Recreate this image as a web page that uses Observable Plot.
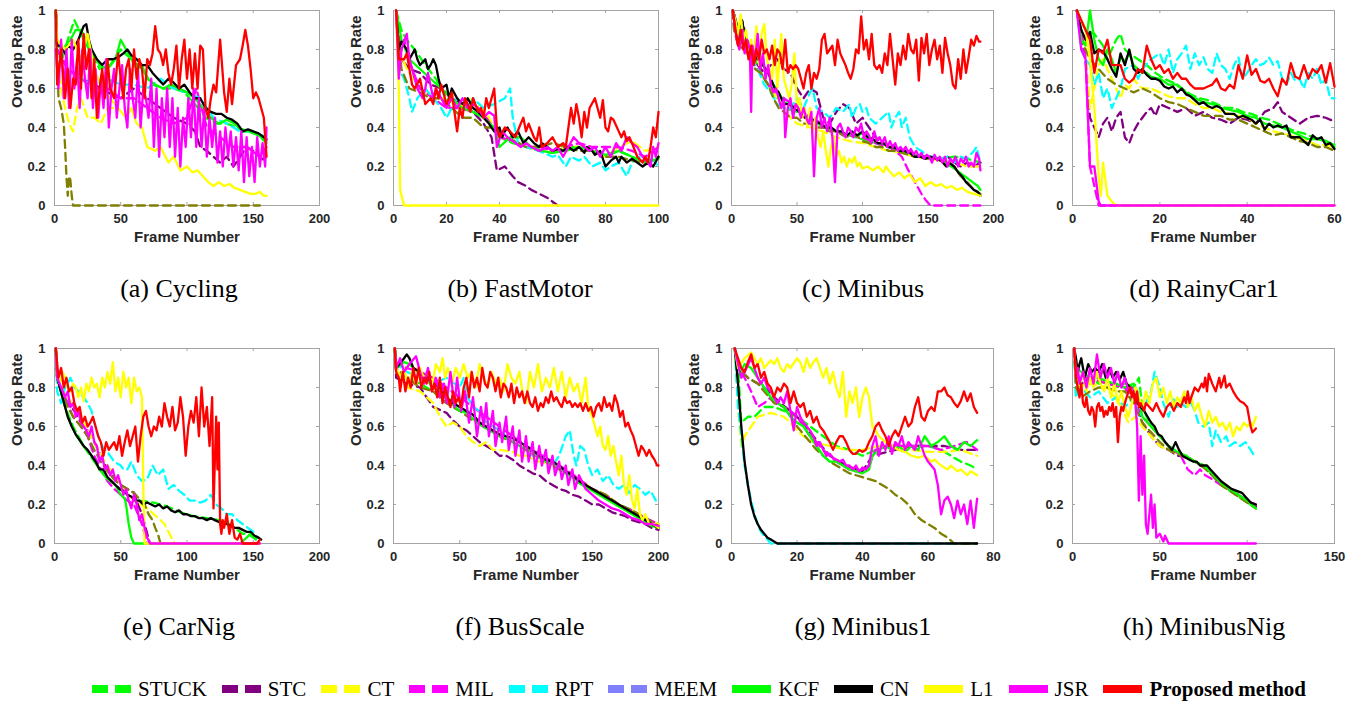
<!DOCTYPE html>
<html><head><meta charset="utf-8">
<script src="https://cdn.jsdelivr.net/npm/d3@7"></script>
<script src="https://cdn.jsdelivr.net/npm/@observablehq/plot@0.6"></script>
<style>
body{margin:0;background:#fff;}
#root{position:relative;width:1362px;height:702px;overflow:hidden;background:#fff;}
.panel{position:absolute;}
.caption{position:absolute;font-family:"Liberation Serif","Times New Roman",serif;font-size:26px;line-height:1;color:#000;transform:translate(-50%,-50%);white-space:nowrap;}
#legend{position:absolute;left:92px;top:674px;height:30px;display:flex;align-items:center;gap:15px;font-family:"Liberation Serif","Times New Roman",serif;font-size:21px;color:#000;white-space:nowrap;}
#legend .item{display:flex;align-items:center;gap:7px;}
#legend svg{display:block;}
</style></head><body><div id="root"></div>
<script>
// ---------------- names, colours ----------------
const trackers = ["STUCK","STC","CT","MIL","RPT","MEEM","KCF","CN","L1","JSR","Proposed method"];
const lineColors = ["#00ff00","#800080","#ffff00","#ff00ff","#00ffff","#808000","#00ff00","#000000","#ffff00","#ff00ff","#ff0000"];
const legendColors = ["#00ff00","#800080","#ffff00","#ff00ff","#00ffff","#8080ff","#00ff00","#000000","#ffff00","#ff00ff","#ff0000"];
const dashed = [true,true,true,true,true,true,false,false,false,false,false];

const panelCaptions = ["(a) Cycling","(b) FastMotor","(c) Minibus","(d) RainyCar1","(e) CarNig","(f) BusScale","(g) Minibus1","(h) MinibusNig"];
const panelXMax = [200,100,200,60,200,200,80,150];
const panelXTicks = [[0,50,100,150,200],[0,20,40,60,80,100],[0,50,100,150,200],[0,20,40,60],[0,50,100,150,200],[0,50,100,150,200],[0,20,40,60,80],[0,50,100,150]];
const yTicks = [0,0.2,0.4,0.6,0.8,1];
const xLabel = "Frame Number";
const yLabel = "Overlap Rate";

// ---------------- data: flat lists of frame, overlap pairs ----------------
const cycling = {
 "STUCK":[1,1,2,.8,6,.75,10,.85,15,.95,20,.88,26,.8,34,.7,42,.72,50,.8,58,.75,66,.7,74,.62,82,.6,90,.6,98,.58,106,.52,114,.45,122,.42,130,.42,138,.4,146,.38,154,.36,160,.32],
 "STC":[1,1,2,.8,10,.7,20,.65,30,.62,40,.58,50,.55,60,.6,70,.55,80,.5,90,.45,100,.42,106,.38,110,.3,115,.28,120,.25,125,.22,130,.25,135,.2,140,.25,145,.3,150,.28,155,.25,160,.22],
 "CT":[1,1,2,.75,5,.6,8,.5,11,.42,14,.38,17,.5,20,.55,25,.45,30,.45,35,.42,40,.5,45,.5],
 "MIL":[1,1,2,.8,10,.7,20,.65,30,.6,40,.6,50,.55,60,.55,70,.5,80,.45,90,.42,100,.45,107,.6,115,.4,125,.35,135,.3,145,.3,155,.25,160,.3],
 "RPT":[1,1,2,.7,10,.68,20,.65,30,.62,40,.65,50,.62,60,.62,70,.6,80,.65,90,.6,100,.58,110,.55,120,.45,130,.42,140,.38,150,.38,160,.35],
 "MEEM":[1,1,3,.55,5,.5,7,.42,8,.3,9,.15,10,.05,11,.15,12,.13,13,.05,14,0,155,0],
 "KCF":[1,1,2,.82,6,.8,12,.85,16,.9,20,.9,24,.85,28,.8,34,.72,40,.7,46,.75,50,.85,54,.8,58,.75,62,.7,66,.72,70,.65,76,.62,82,.6,88,.62,94,.6,100,.58,106,.55,112,.5,118,.45,124,.42,130,.44,136,.42,142,.38,148,.38,154,.36,160,.33],
 "CN":[1,1,2,.82,5,.82,8,.78,10,.82,14,.8,18,.85,22,.92,24,.93,26,.85,28,.8,32,.75,36,.72,40,.75,44,.75,48,.76,52,.78,55,.8,58,.77,62,.75,66,.72,70,.72,74,.68,78,.65,82,.62,86,.65,90,.63,94,.6,98,.62,102,.58,106,.55,110,.55,114,.5,118,.48,122,.47,126,.47,130,.45,134,.44,138,.42,142,.38,146,.39,150,.38,154,.37,158,.35,160,.34],
 "L1":[1,1,2,.85,8,.8,14,.85,20,.75,25,.88,30,.7,36,.6,42,.55,48,.5,54,.45,58,.5,62,.42,66,.4,70,.3,76,.28,80,.3,86,.22,90,.25,95,.18,100,.2,104,.17,108,.18,112,.15,116,.12,120,.1,124,.12,128,.1,132,.11,136,.09,140,.08,144,.07,148,.06,152,.06,155,.07,158,.05,160,.05],
 "JSR":[1,.8,3,.6,5,.85,7,.55,9,.8,11,.5,13,.85,15,.6,17,.75,19,.5,21,.8,23,.65,25,.55,27,.8,29,.5,31,.7,33,.45,35,.65,37,.5,39,.75,41,.4,43,.6,45,.7,47,.45,49,.6,51,.72,53,.5,55,.4,57,.7,59,.55,61,.45,63,.7,65,.4,67,.6,69,.55,71,.45,73,.65,75,.3,77,.6,79,.25,81,.55,83,.35,85,.6,87,.3,89,.55,91,.25,93,.5,95,.2,97,.45,99,.3,101,.55,103,.35,105,.6,107,.3,109,.55,111,.3,113,.5,115,.25,117,.45,119,.3,121,.45,123,.22,125,.38,127,.2,129,.4,131,.25,133,.38,135,.2,137,.35,139,.18,141,.38,143,.12,145,.35,147,.15,149,.3,151,.12,153,.35,155,.2,157,.32,159,.2,160,.4],
 "Proposed method":[1,1,2,.62,5,.8,8,.55,10,.7,12,.5,14,.65,16,.62,18,.85,20,.6,22,.88,24,.7,26,.8,28,.55,30,.75,32,.45,34,.6,36,.7,38,.55,40,.75,42,.6,45,.55,48,.78,50,.65,52,.55,54,.7,56,.75,58,.6,60,.8,62,.65,64,.75,66,.7,68,.55,70,.75,72,.72,74,.78,76,.92,78,.8,80,.78,82,.72,84,.8,86,.68,88,.62,90,.7,92,.82,94,.6,96,.75,98,.85,100,.65,102,.8,104,.6,106,.78,108,.6,110,.82,112,.8,114,.5,116,.45,118,.55,120,.62,122,.58,125,.85,128,.58,130,.48,132,.65,134,.52,137,.72,140,.75,142,.82,144,.9,146,.82,148,.7,150,.55,152,.58,154,.55,156,.5,158,.45,159,.35,160,.25]
};
const fastMotor = {
 "STUCK":[1,1,3,.9,5,.85,8,.8,12,.72,16,.65,20,.55,25,.5,30,.48,35,.45,40,.35,45,.32,50,.3,55,.28,60,.27,65,.3,70,.3,75,.28,80,.25,85,.28,90,.25,95,.22,100,.25],
 "STC":[1,1,3,.75,6,.7,10,.68,14,.62,18,.6,22,.55,26,.52,30,.48,34,.42,37,.35,39,.18,42,.2,45,.15,47,.12,50,.1,52,.08,55,.06,58,.04,60,.02,62,0],
 "CT":[1,1,2,.8,5,.7,10,.6,15,.55,20,.55,25,.5,28,.55,32,.52,36,.45,40,.35,45,.33,50,.3,55,.28,60,.28,65,.3,70,.3,75,.28,80,.25,85,.3,90,.33,95,.28,100,.3],
 "MIL":[1,1,2,.75,4,.85,7,.7,10,.6,15,.55,20,.5,25,.5,30,.48,35,.45,40,.35,45,.33,50,.3,55,.3,60,.28,65,.3,70,.32,75,.3,80,.3,85,.3,90,.28,95,.25,100,.3],
 "RPT":[1,1,2,.7,4,.65,5,.6,6,.55,7,.48,9,.55,12,.6,15,.55,18,.5,20,.45,24,.55,28,.5,30,.55,34,.5,38,.52,42,.55,44,.6,45,.45,47,.32,50,.3,55,.28,60,.25,62,.26,65,.2,67,.25,70,.23,72,.25,75,.2,78,.22,80,.18,82,.2,85,.22,88,.15,90,.22,93,.25,95,.22,97,.25,100,.2],
 "MEEM":[1,1,3,.7,6,.6,10,.58,14,.55,18,.55,22,.5,26,.45,30,.45,34,.4,38,.4,42,.35,46,.33,50,.3,55,.3,60,.32,65,.3,70,.28,75,.28,80,.25,85,.25,90,.23,95,.22,100,.25],
 "KCF":[1,1,3,.85,6,.75,10,.7,14,.65,18,.6,22,.55,26,.5,30,.48,34,.45,38,.4,40,.3,44,.35,48,.35,52,.3,56,.28,60,.27,65,.28,70,.3,75,.28,80,.26,85,.28,90,.25,95,.22,100,.24],
 "CN":[1,1,2,.8,3,.84,5,.8,6,.75,8,.8,9,.75,10,.72,12,.75,13,.7,14,.72,15,.75,16,.72,17,.65,18,.6,20,.62,21,.55,22,.6,24,.55,26,.52,28,.55,30,.5,32,.48,34,.45,36,.42,38,.38,40,.4,41,.35,42,.38,43,.4,45,.35,47,.38,49,.32,51,.35,53,.32,55,.3,56,.32,58,.3,60,.28,62,.29,64,.28,66,.3,68,.28,70,.3,72,.27,73,.3,75,.28,76,.26,78,.28,80,.2,82,.23,84,.25,85,.22,86,.25,88,.22,90,.24,92,.22,94,.2,96,.22,98,.2,100,.25],
 "L1":[1,1,2,.6,2.5,.08,4,0,100,0],
 "JSR":[1,1,2,.65,3,.8,5,.88,6,.75,7,.7,9,.6,11,.55,12,.6,13,.68,15,.55,16,.6,18,.55,20,.5,22,.55,24,.5,26,.55,28,.5,30,.52,32,.5,34,.45,36,.48,38,.46,39,.3,41,.38,43,.35,45,.33,48,.3,50,.32,52,.3,55,.28,58,.3,60,.28,62,.3,64,.25,66,.3,68,.35,70,.32,72,.3,74,.28,76,.3,78,.25,80,.3,82,.25,84,.32,86,.28,88,.35,90,.32,92,.3,94,.25,96,.22,97,.2,98,.3,99,.25,100,.32],
 "Proposed method":[1,1,2,.75,4,.75,5,.78,7,.62,8,.6,10,.65,12,.52,14,.55,15,.52,16,.6,17,.55,18,.62,20,.52,22,.58,23,.48,24,.38,25,.5,26,.45,27,.55,28,.52,29,.48,30,.55,32,.48,33,.5,34,.45,35,.55,36,.5,38,.6,39,.4,40,.35,42,.4,44,.38,46,.35,48,.42,49,.45,50,.38,51,.42,53,.35,54,.33,55,.4,56,.3,58,.32,60,.35,62,.3,64,.32,65,.3,66,.4,67,.5,68,.42,69,.52,70,.45,71,.35,72,.48,73,.4,74,.5,76,.55,77,.5,78,.45,79,.54,80,.4,81,.38,82,.45,83,.44,85,.38,86,.35,87,.38,88,.33,89,.35,90,.32,92,.25,94,.22,95,.25,96,.22,97,.3,98,.4,99,.35,100,.48]
};
const minibus = {
 "STUCK":[1,1,2,.95,5,.9,10,.85,15,.78,20,.72,25,.65,30,.6,35,.55,40,.5,50,.48,60,.45,70,.4,80,.38,90,.36,100,.34,110,.32,120,.3,130,.28,140,.26,150,.25,160,.24,170,.25,180,.24,190,.22],
 "STC":[1,1,2,.95,5,.9,8,.95,12,.85,16,.78,20,.72,25,.68,30,.72,35,.75,40,.7,45,.68,50,.6,55,.55,60,.6,65,.58,70,.45,75,.42,80,.48,85,.52,90,.5,95,.42,100,.45,105,.4,110,.35,115,.32,120,.3,125,.3,130,.28,135,.28,140,.26,145,.25,150,.25,155,.24,160,.24,165,.25,170,.22,175,.2,180,.22,185,.2,190,.22],
 "CT":[1,1,2,.95,5,.85,10,.8,15,.75,20,.7,25,.65,30,.6,35,.55,40,.5,45,.45,50,.42,60,.4,70,.38,80,.35,90,.33,100,.32,110,.3,120,.28,130,.27,140,.25,150,.24,160,.23,170,.22,180,.2,190,.2],
 "MIL":[1,1,2,.9,10,.8,20,.7,30,.6,40,.55,50,.5,60,.45,70,.42,80,.38,90,.36,100,.35,110,.32,120,.3,125,.28,130,.25,135,.18,140,.12,145,.06,148,.03,152,0,190,0],
 "RPT":[1,1,2,.95,5,.88,10,.82,15,.75,20,.7,25,.62,30,.58,35,.52,40,.5,45,.5,50,.55,55,.5,60,.58,62,.6,65,.5,70,.48,75,.45,80,.5,85,.48,90,.52,92,.45,95,.5,98,.52,100,.48,103,.5,105,.45,110,.42,115,.45,120,.48,122,.4,125,.45,128,.48,130,.4,133,.45,136,.35,140,.3,145,.28,150,.25,155,.25,160,.24,165,.25,170,.22,175,.25,180,.24,185,.28,187,.3,190,.22],
 "MEEM":[1,1,2,.9,5,.82,10,.8,15,.75,18,.7,22,.68,28,.62,32,.55,36,.5,40,.48,45,.45,50,.45,55,.42,60,.42,65,.4,70,.4,75,.38,80,.38,85,.36,90,.35,95,.36,100,.33,105,.32,110,.3,115,.3,120,.28,125,.28,130,.27,135,.26,140,.25,145,.25,150,.24,155,.24,160,.23,165,.22,170,.2,175,.15,180,.12,185,.08,190,.06],
 "KCF":[1,1,2,.98,5,.9,8,.93,10,.88,13,.82,16,.78,20,.75,24,.72,28,.68,32,.62,36,.58,40,.53,44,.52,48,.5,52,.48,56,.46,60,.45,64,.43,68,.42,72,.4,76,.4,80,.38,84,.38,88,.36,92,.37,96,.36,100,.37,104,.35,108,.34,112,.32,116,.32,120,.3,124,.3,128,.28,132,.28,136,.27,140,.25,144,.25,148,.24,152,.25,156,.24,160,.23,164,.21,168,.2,172,.18,176,.16,180,.14,184,.12,188,.1,190,.08],
 "CN":[1,1,2,.98,5,.9,8,.95,10,.88,13,.82,16,.78,20,.75,24,.72,28,.68,30,.65,33,.6,36,.58,40,.52,44,.52,48,.5,52,.48,56,.45,60,.45,64,.43,68,.42,72,.4,76,.4,80,.38,84,.38,88,.36,92,.38,96,.36,100,.38,104,.35,108,.34,112,.32,116,.32,120,.3,124,.3,128,.28,132,.28,136,.27,140,.25,144,.25,148,.24,152,.25,156,.24,160,.23,164,.2,166,.22,170,.2,173,.17,176,.15,179,.12,182,.1,185,.08,188,.07,190,.05],
 "L1":[1,1,3,.95,5,.88,7,.98,9,.85,11,.9,13,.78,15,.85,17,.75,19,.92,21,.72,23,.88,25,.93,27,.75,29,.7,31,.65,33,.85,35,.6,38,.88,40,.65,42,.6,44,.55,46,.62,48,.78,50,.5,52,.55,54,.45,56,.5,58,.4,60,.5,62,.38,64,.45,66,.35,68,.3,70,.38,72,.28,74,.2,76,.3,78,.35,80,.25,82,.28,84,.22,86,.25,88,.2,90,.24,92,.22,94,.25,96,.2,98,.22,100,.19,104,.2,108,.18,112,.2,116,.17,118,.2,120,.18,124,.15,128,.17,132,.14,136,.16,140,.12,144,.14,148,.1,152,.12,156,.1,160,.11,164,.09,168,.1,172,.08,176,.09,180,.07,185,.06,190,.05],
 "JSR":[1,1,2,.95,4,.85,6,.8,8,.9,10,.78,12,.85,14,.8,15,.48,16,.82,18,.75,20,.88,22,.7,24,.78,26,.65,28,.72,30,.62,32,.58,34,.6,36,.55,38,.5,40,.55,41,.35,43,.5,45,.55,47,.45,49,.52,51,.5,53,.45,55,.5,57,.45,59,.42,61,.48,63,.15,65,.45,67,.5,69,.4,71,.45,73,.38,75,.45,77,.35,79,.12,81,.4,83,.42,85,.38,87,.35,89,.4,91,.38,93,.35,95,.4,97,.38,99,.42,101,.35,103,.38,105,.36,107,.32,109,.38,111,.33,113,.35,115,.32,117,.35,119,.3,121,.33,123,.3,125,.32,127,.28,129,.3,131,.28,133,.3,135,.27,137,.29,139,.26,141,.28,143,.25,145,.27,147,.24,149,.26,151,.25,153,.22,155,.26,157,.23,159,.25,161,.22,163,.25,165,.2,167,.24,169,.22,171,.25,173,.2,175,.24,177,.22,179,.25,181,.2,183,.22,185,.2,187,.27,189,.24,190,.18],
 "Proposed method":[1,1,3,.9,5,.82,7,.9,9,.8,11,.85,13,.75,15,.82,17,.72,19,.8,21,.75,23,.85,25,.78,27,.8,29,.75,31,.82,33,.72,35,.8,37,.78,39,.7,41,.85,43,.68,45,.72,47,.7,49,.72,51,.7,53,.65,55,.6,57,.68,59,.72,61,.6,63,.68,65,.65,67,.7,69,.85,71,.88,73,.78,75,.8,77,.82,79,.72,81,.85,83,.78,85,.75,87,.72,89,.68,91,.65,93,.7,95,.8,97,.78,99,.97,101,.8,103,.85,105,.75,107,.88,109,.72,111,.7,113,.72,115,.68,117,.78,119,.72,121,.88,123,.75,125,.62,127,.78,129,.72,131,.82,133,.75,135,.88,137,.8,139,.78,141,.85,143,.64,145,.86,147,.78,149,.88,151,.72,153,.8,155,.85,157,.75,159,.82,161,.68,163,.86,165,.78,167,.72,169,.62,171,.6,173,.75,175,.65,177,.8,179,.68,181,.76,183,.85,185,.82,187,.87,189,.84,190,.84]
};
const rainyCar1 = {
 "STUCK":[1,1,3,.9,5,.88,7,.82,8,.75,9,.8,10,.85,11,.88,12,.8,13,.78,15,.75,17,.72,19,.68,21,.65,23,.63,25,.6,27,.57,29,.55,31,.54,33,.52,35,.5,37,.5,39,.48,41,.47,43,.45,45,.44,47,.42,49,.4,51,.38,53,.37,55,.35,57,.34,59,.32,60,.3],
 "STC":[1,1,2,.85,3,.75,4,.45,5,.4,6,.35,7,.42,8,.45,9,.38,10,.45,11,.48,12,.35,13,.32,14,.38,15,.42,16,.45,17,.48,18,.5,19,.46,20,.52,22,.5,24,.48,26,.5,28,.46,30,.48,32,.45,34,.44,36,.42,38,.45,40,.44,42,.42,44,.48,46,.5,47,.53,48,.48,50,.45,52,.42,54,.45,56,.46,58,.45,60,.43],
 "CT":[1,1,2,.9,3,.8,4,.5,5,.6,6,.72,7,.75,8,.7,9,.65,10,.6,11,.55,12,.62,13,.6,14,.65,15,.62,16,.6,18,.6,20,.58,22,.56,24,.55,26,.55,28,.52,30,.5,32,.5,34,.48,36,.47,38,.46,40,.45,42,.42,44,.4,46,.38,48,.37,50,.36,52,.34,54,.33,56,.31,58,.31,60,.3],
 "MIL":[1,1,2,.9,3,.76,4,.2,6,0,60,0],
 "RPT":[1,1,2,.8,3,.75,4,.72,5,.62,6,.68,7,.55,8,.6,9,.5,10,.55,11,.6,12,.7,14,.72,15,.65,16,.7,18,.75,20,.78,21,.72,22,.8,23,.68,24,.75,25,.78,26,.82,27,.7,28,.78,29,.72,30,.76,31,.7,32,.68,33,.78,34,.72,35,.7,36,.65,37,.72,38,.76,39,.65,40,.68,41,.72,42,.75,43,.72,44,.73,45,.76,46,.72,47,.74,48,.65,49,.62,50,.68,51,.64,52,.65,53,.6,54,.68,55,.65,56,.7,57,.62,58,.65,59,.55,60,.55],
 "MEEM":[1,1,2,.85,4,.75,6,.7,8,.65,10,.62,12,.6,14,.58,16,.6,18,.58,20,.55,22,.53,24,.52,26,.5,28,.48,30,.46,32,.46,34,.46,36,.44,38,.44,40,.42,42,.4,44,.38,46,.36,48,.37,50,.35,52,.33,54,.32,56,.3,58,.3,60,.28],
 "KCF":[1,1,2,.85,3,.82,4,1,5,.85,6,.75,7,.72,8,.8,9,.75,10,.68,11,.76,12,.74,13,.78,14,.72,15,.7,16,.68,17,.68,18,.66,20,.65,22,.62,24,.62,26,.58,28,.55,30,.53,32,.52,34,.5,36,.49,38,.48,40,.46,42,.45,44,.42,46,.41,48,.4,50,.38,52,.36,54,.34,56,.34,58,.33,60,.31],
 "CN":[1,1,2,.9,3,.85,4,.89,5,.78,6,.8,7,.79,8,.75,9,.7,10,.66,11,.78,12,.72,13,.8,14,.7,15,.68,16,.7,17,.67,18,.65,19,.65,20,.64,21,.61,22,.6,23,.61,24,.58,25,.6,26,.57,27,.56,28,.54,29,.52,30,.53,31,.51,32,.5,33,.51,34,.5,35,.47,36,.47,37,.47,38,.45,39,.46,40,.45,41,.44,42,.42,43,.44,44,.39,45,.42,46,.4,47,.41,48,.4,49,.41,50,.35,51,.35,52,.35,53,.33,54,.31,55,.36,56,.34,57,.35,58,.31,59,.32,60,.29],
 "L1":[1,1,2,.95,3,.9,4,.75,5,.5,6,.15,6.5,.05,7,.22,8,.05,9,.02,10,0,60,0],
 "JSR":[1,1,2,.8,3,.75,4,.2,5,.2,6,.02,6.5,0,60,0],
 "Proposed method":[1,1,2,.95,3,.9,4,.85,5,.68,6,.8,7,.78,8,.85,9,.72,10,.72,11,.72,12,.65,13,.63,14,.65,15,.7,16,.68,17,.82,18,.75,19,.7,20,.72,21,.68,22,.7,23,.65,24,.68,25,.65,26,.65,27,.62,28,.6,29,.6,30,.6,31,.61,32,.62,33,.65,34,.6,35,.59,36,.62,37,.6,38,.72,39,.65,40,.77,41,.67,42,.7,43,.64,44,.63,45,.65,46,.6,47,.56,48,.65,49,.62,50,.73,51,.66,52,.65,53,.72,54,.65,55,.7,56,.68,57,.72,58,.63,59,.73,60,.61]
};
const carNig = {
 "STUCK":[1,1,2,.85,8,.7,14,.6,22,.5,30,.42,38,.35,46,.3,55,.25,64,.22,75,.21,85,.19,95,.16,105,.14,115,.13,125,.12,132,.1,138,.07,142,.05,146,.05,150,.03,154,.02],
 "STC":[1,1,2,.85,5,.78,10,.72,15,.68,20,.62,25,.58,30,.52,35,.45,40,.38,45,.33,50,.3,55,.28,60,.26,63,.2,66,.15,68,.1,70,.05,72,0,155,0],
 "CT":[1,1,2,.85,5,.8,10,.75,15,.7,20,.65,25,.58,30,.52,35,.45,40,.4,45,.35,50,.3,55,.26,60,.22,65,.2,70,.18,75,.15,80,.12,83,.1,86,.06,89,.02,91,0,155,0],
 "MIL":[1,1,2,.85,8,.75,14,.65,20,.6,25,.55,30,.45,35,.38,40,.32,45,.28,50,.25,55,.22,60,.2,63,.15,66,.1,68,.05,70,0,155,0],
 "RPT":[1,1,2,.78,5,.72,8,.8,10,.82,12,.85,15,.8,18,.78,22,.75,25,.72,28,.68,30,.62,33,.55,36,.5,40,.47,45,.42,50,.4,52,.38,55,.38,58,.42,62,.35,66,.32,70,.33,74,.4,78,.35,82,.38,86,.28,90,.3,94,.27,98,.25,102,.22,106,.22,110,.21,114,.22,118,.25,122,.2,126,.18,130,.15,134,.15,138,.12,142,.1,146,.08,150,.06,153,.03],
 "MEEM":[1,1,2,.85,5,.78,10,.7,15,.64,20,.6,25,.55,30,.48,35,.42,40,.37,45,.33,50,.3,55,.28,60,.26,65,.22,68,.2,71,.15,74,.12,76,.08,78,.05,80,0,155,0],
 "KCF":[1,1,2,.85,6,.75,10,.65,16,.56,22,.5,28,.45,34,.38,40,.33,46,.3,50,.25,53,.23,54,.2,56,.1,58,.03,60,0,140,0,145,.03,148,.05,152,.02],
 "CN":[1,1,2,.85,4,.8,6,.75,8,.7,10,.65,13,.6,16,.56,19,.53,22,.5,25,.48,28,.45,31,.42,34,.38,37,.38,40,.34,43,.32,46,.3,49,.28,52,.27,55,.25,58,.24,61,.22,64,.22,67,.2,70,.21,73,.2,76,.19,79,.2,82,.18,85,.19,88,.17,91,.16,94,.17,97,.15,100,.15,103,.14,106,.14,109,.13,112,.13,115,.12,118,.13,121,.12,124,.11,127,.11,130,.1,133,.09,136,.08,139,.08,142,.07,145,.06,148,.06,151,.04,154,.03,156,.02],
 "L1":[1,1,2,.85,4,.82,6,.88,8,.85,10,.8,12,.78,14,.82,16,.8,18,.75,20,.8,22,.73,24,.82,26,.78,28,.85,30,.8,32,.82,34,.75,36,.85,38,.8,40,.88,42,.82,44,.93,46,.78,48,.85,50,.75,52,.88,54,.8,56,.85,58,.72,60,.85,62,.78,64,.8,66,.75,67,.3,68,0,155,0],
 "JSR":[1,1,2,.85,5,.8,8,.75,10,.78,12,.7,14,.72,16,.65,18,.68,20,.62,22,.6,24,.58,26,.55,28,.6,30,.52,32,.5,34,.42,36,.45,38,.38,40,.4,42,.35,44,.38,46,.32,48,.35,50,.3,52,.25,54,.28,56,.22,58,.18,60,.25,62,.2,64,.12,66,.15,68,.08,70,.03,72,0,155,0],
 "Proposed method":[1,1,3,.85,5,.9,7,.8,9,.85,11,.78,13,.8,15,.72,17,.68,19,.7,21,.62,23,.65,25,.6,27,.62,29,.65,31,.6,33,.55,35,.52,37,.45,39,.52,41,.48,43,.5,45,.52,47,.48,49,.55,51,.45,53,.52,55,.58,57,.5,59,.55,61,.6,63,.42,65,.55,67,.65,69,.68,71,.6,73,.55,75,.6,77,.58,79,.65,81,.6,83,.72,85,.65,87,.6,89,.7,91,.58,93,.62,95,.75,97,.65,99,.45,101,.6,103,.68,105,.62,107,.75,109,.55,111,.8,113,.6,115,.7,117,.5,119,.75,120,.18,122,.65,123,.38,124,.62,125,.1,126,.05,127,.12,128,.08,130,.15,132,.05,134,.12,136,.03,138,.02,140,.05,142,0,153,0,155,.02]
};
const busScale = {
 "STUCK":[1,1,2,.9,10,.85,20,.82,30,.78,40,.72,50,.68,60,.64,70,.6,80,.55,90,.52,100,.48,110,.45,120,.4,130,.37,140,.32,150,.28,160,.25,170,.2,180,.17,190,.13,200,.1],
 "STC":[1,1,2,.85,10,.82,20,.8,25,.75,30,.7,40,.67,45,.63,50,.6,55,.58,60,.55,65,.52,70,.5,75,.48,80,.45,85,.45,90,.43,95,.4,100,.38,105,.36,110,.35,115,.32,120,.3,125,.28,130,.27,135,.25,140,.24,145,.22,150,.2,155,.2,160,.18,165,.16,170,.15,175,.14,180,.12,185,.11,190,.1,195,.08,200,.07],
 "CT":[1,1,2,.9,10,.8,20,.78,25,.75,30,.72,35,.65,40,.6,45,.62,50,.6,55,.55,60,.52,65,.5,70,.52,75,.48,80,.48,90,.47,95,.45,100,.45,110,.42,120,.4,130,.37,140,.33,150,.28,160,.25,170,.2,180,.17,190,.13,200,.1],
 "MIL":[1,1,2,.92,10,.9,20,.88,30,.85,40,.8,50,.75,60,.7,70,.65,80,.6,90,.55,100,.5,110,.46,120,.42,130,.38,140,.33,150,.28,160,.25,170,.2,180,.17,190,.13,200,.1],
 "RPT":[1,1,2,.92,10,.88,20,.85,30,.82,40,.85,50,.8,53,.85,56,.75,60,.7,65,.68,70,.62,75,.6,80,.58,85,.55,90,.52,95,.5,100,.48,105,.45,110,.45,115,.42,120,.4,125,.45,130,.55,133,.58,136,.45,138,.4,141,.5,144,.48,147,.4,150,.35,154,.38,158,.32,162,.35,166,.3,170,.28,174,.3,178,.26,182,.3,186,.28,190,.25,194,.27,198,.22,200,.22],
 "MEEM":[1,1,2,.9,10,.85,20,.8,30,.78,35,.75,40,.72,50,.68,60,.63,70,.6,80,.55,90,.52,100,.48,110,.44,120,.4,130,.36,140,.32,150,.28,160,.25,170,.2,180,.17,190,.13,200,.09],
 "KCF":[1,1,2,.9,8,.93,12,.92,15,.9,20,.87,25,.84,30,.8,35,.78,40,.74,45,.71,50,.68,55,.67,60,.64,65,.61,70,.59,75,.57,80,.55,85,.54,90,.52,95,.5,100,.49,105,.47,110,.44,115,.42,120,.41,125,.39,130,.36,135,.34,140,.31,145,.29,150,.27,155,.25,160,.23,165,.21,170,.19,175,.17,180,.15,185,.13,190,.11,195,.09,200,.08],
 "CN":[1,1,2,.9,8,.95,10,.97,12,.95,15,.9,20,.88,25,.85,30,.82,35,.8,40,.75,45,.72,50,.7,55,.68,60,.66,65,.62,70,.6,75,.58,80,.56,85,.55,90,.54,95,.52,100,.5,105,.48,110,.45,115,.43,120,.42,125,.4,130,.37,135,.35,140,.32,145,.3,150,.28,155,.26,160,.24,165,.22,170,.2,175,.18,180,.16,185,.14,190,.12,195,.1,200,.08],
 "L1":[1,1,2,.9,5,.85,8,.9,11,.8,14,.88,17,.82,20,.9,23,.85,26,.88,29,.8,32,.92,35,.88,37,.95,39,.85,41,.9,44,.82,47,.9,50,.85,53,.92,56,.85,59,.88,62,.8,65,.92,68,.85,71,.8,74,.88,77,.82,80,.85,83,.78,86,.92,89,.85,92,.82,95,.88,98,.75,100,.72,103,.88,106,.8,109,.92,112,.78,115,.85,118,.8,121,.9,124,.78,127,.88,130,.75,133,.85,136,.78,139,.82,142,.72,145,.85,147,.7,150,.65,152,.6,154,.55,156,.6,158,.5,160,.48,162,.55,164,.45,166,.5,168,.42,170,.35,172,.45,174,.3,176,.25,178,.35,180,.22,182,.18,184,.28,186,.15,188,.12,190,.15,193,.1,196,.1,200,.08],
 "JSR":[1,1,2,.9,5,.95,8,.88,12,.92,17,.96,20,.88,23,.82,26,.9,29,.78,32,.85,35,.75,38,.82,40,.72,43,.88,46,.7,48,.85,51,.68,54,.78,57,.62,60,.75,63,.55,66,.7,68,.6,70,.72,72,.55,75,.68,77,.5,80,.62,82,.52,85,.65,87,.48,90,.6,92,.45,95,.58,97,.42,100,.55,102,.42,105,.52,107,.38,110,.5,112,.4,115,.48,117,.36,120,.45,122,.35,125,.42,127,.33,130,.4,132,.3,135,.38,137,.28,140,.35,145,.28,150,.25,155,.22,160,.2,165,.18,170,.17,175,.15,180,.13,185,.12,190,.1,195,.1,200,.09],
 "Proposed method":[1,1,2,.88,4,.85,5,.78,7,.88,9,.78,11,.85,13,.8,15,.9,17,.82,19,.9,21,.8,23,.85,25,.82,27,.88,29,.78,31,.82,33,.75,35,.85,37,.72,39,.8,41,.75,43,.7,45,.78,47,.72,49,.75,51,.7,53,.8,55,.85,57,.75,59,.88,61,.8,63,.85,65,.78,67,.9,69,.82,71,.8,73,.88,75,.85,77,.78,79,.85,81,.75,83,.82,85,.8,87,.75,89,.82,91,.72,93,.8,95,.75,97,.78,99,.72,101,.78,103,.72,105,.7,107,.75,109,.68,111,.72,113,.7,115,.75,117,.72,119,.78,121,.73,123,.75,125,.72,127,.7,129,.75,131,.72,133,.73,135,.7,137,.72,139,.7,141,.72,143,.68,145,.72,147,.68,149,.7,151,.65,153,.7,155,.72,157,.68,159,.75,161,.7,163,.72,165,.68,167,.76,169,.72,171,.65,173,.68,175,.6,177,.62,179,.58,181,.55,183,.5,185,.45,187,.5,189,.48,191,.45,193,.48,195,.45,197,.43,199,.4,200,.4]
};
const minibus1 = {
 "STUCK":[1,1,2,.9,3,.62,5,.65,7,.65,10,.7,13,.7,16,.68,20,.65,24,.6,28,.55,32,.5,36,.48,40,.45,44,.48,48,.5,52,.5,56,.5,60,.5,64,.48,67,.45,70,.42,73,.4,75,.38],
 "STC":[1,1,2,.9,5,.85,10,.8,15,.72,20,.65,25,.55,30,.45,35,.4,40,.37,43,.45,50,.48,55,.5,60,.5,65,.5,70,.48,75,.48],
 "CT":[1,1,2,.7,3,.5,4,.55,6,.6,8,.65,10,.66,12,.67,14,.66,16,.65,18,.62,20,.58,22,.55,25,.52,30,.5,35,.48,40,.48,45,.5,50,.5,55,.48,60,.47,65,.47,70,.48,75,.45],
 "MIL":[1,1,2,.9,4,.85,6,.78,8,.7,10,.72,12,.75,14,.72,16,.7,18,.68,20,.65,22,.6,24,.55,26,.52,28,.48,30,.45,32,.42,34,.4,36,.38,38,.37,40,.38,42,.4,44,.48,48,.5,52,.5,56,.5,60,.5,64,.48,68,.5,72,.52,75,.48],
 "RPT":[1,1,2,.7,3,.55,4,.4,5,.3,6,.22,7,.15,8,.1,9,.06,10,.04,11,.02,12,0,75,0],
 "MEEM":[1,1,2,.9,5,.85,8,.82,10,.78,13,.72,16,.7,18,.66,20,.6,22,.56,24,.52,26,.48,28,.45,30,.42,32,.4,34,.38,36,.36,38,.35,40,.34,42,.33,44,.32,46,.3,48,.28,50,.25,52,.23,54,.2,56,.15,58,.12,60,.1,62,.08,64,.05,66,.03,68,0,75,0],
 "KCF":[1,1,2,.85,4,.92,6,.9,8,.85,10,.8,12,.75,14,.72,16,.7,18,.65,20,.62,22,.6,24,.55,26,.5,28,.45,30,.42,32,.42,34,.4,36,.38,38,.37,40,.36,42,.38,43,.45,45,.48,47,.5,49,.48,51,.5,53,.47,55,.5,57,.48,59,.55,61,.5,63,.52,65,.55,67,.5,69,.48,71,.52,73,.5,75,.53],
 "CN":[1,1,2,.82,3,.6,4,.42,5,.3,6,.2,7,.14,8,.1,9,.07,10,.05,11,.03,12,.02,13,.01,14,0,75,0],
 "L1":[1,1,2,.9,4,.95,6,.98,7,.95,8,.92,9,.95,10,.9,12,.94,13,.92,14,.95,15,.9,16,.88,17,.92,18,.9,20,.95,21,.93,22,.88,23,.95,24,.9,25,.93,26,.95,27,.9,28,.85,29,.9,30,.82,31,.88,32,.8,33,.75,34,.88,35,.65,36,.78,37,.72,38,.8,39,.65,40,.75,41,.8,42,.75,43,.6,44,.58,45,.55,47,.52,49,.5,51,.48,53,.47,55,.45,57,.44,59,.45,61,.42,62,.43,64,.4,66,.38,67,.4,69,.37,70,.38,72,.35,73,.37,75,.35],
 "JSR":[1,1,2,.92,3,.85,4,.88,6,.95,7,.9,8,.85,9,.82,10,.85,11,.8,12,.78,13,.75,14,.72,15,.75,16,.72,17,.78,18,.68,19,.58,20,.7,21,.65,22,.62,23,.6,24,.58,25,.55,26,.5,27,.52,28,.48,29,.45,30,.46,31,.44,33,.42,34,.43,35,.4,36,.4,37,.38,38,.4,39,.37,40,.39,41,.38,42,.4,43,.5,44,.55,45,.45,46,.52,47,.48,48,.55,49,.46,50,.52,51,.5,52,.55,53,.48,54,.52,55,.5,56,.48,57,.55,58,.5,59,.45,60,.42,61,.4,62,.38,63,.3,64,.15,65,.22,66,.24,67,.2,68,.13,69,.22,70,.15,71,.2,72,.1,73,.22,74,.08,75,.23],
 "Proposed method":[1,1,2,.95,3,.9,4,.88,5,.93,6,.97,7,.9,8,.92,9,.85,10,.88,11,.82,12,.8,13,.75,14,.8,15,.78,16,.82,17,.8,18,.72,19,.78,20,.72,21,.7,22,.72,23,.65,24,.68,25,.62,26,.65,27,.6,28,.58,29,.55,30,.52,31,.48,32,.52,33,.55,34,.55,35,.52,36,.48,37,.46,38,.46,39,.48,40,.47,41,.48,42,.52,43,.55,44,.6,45,.62,46,.58,47,.55,48,.5,49,.55,50,.58,51,.55,52,.6,53,.65,54,.6,55,.62,56,.7,57,.75,58,.65,59,.63,60,.68,61,.7,62,.68,63,.78,64,.78,65,.8,66,.76,67,.75,68,.72,69,.7,70,.73,71,.78,72,.73,73,.77,74,.7,75,.67]
};
const minibusNig = {
 "STUCK":[1,1,2,.75,5,.8,10,.85,15,.82,20,.83,25,.8,30,.82,35,.8,38,.85,40,.7,45,.6,50,.55,55,.5,60,.47,65,.44,70,.42,75,.4,80,.35,85,.3,90,.27,95,.24,100,.21,105,.18],
 "STC":[1,1,2,.8,10,.85,20,.82,30,.8,36,.72,40,.62,45,.55,50,.5,55,.48,60,.45,65,.45,70,.42,75,.4,80,.35,85,.32,90,.28,95,.25,100,.22,105,.19],
 "CT":[1,1,2,.8,10,.82,20,.8,28,.7,32,.62,36,.65,40,.6,45,.55,50,.5,55,.48,60,.46,65,.45,70,.42,75,.4,80,.35,85,.32,90,.28,95,.25,100,.22,105,.2],
 "MIL":[1,1,2,.85,10,.85,20,.82,30,.8,36,.72,40,.65,45,.6,50,.55,55,.5,62,.45,66,.38,70,.35,73,.38,76,.35,80,.33,85,.3,90,.28,95,.25,100,.22,105,.2],
 "RPT":[1,1,2,.75,5,.8,10,.75,15,.78,20,.72,25,.75,30,.7,35,.75,38,.65,42,.72,45,.78,47,.88,50,.8,52,.72,55,.65,58,.75,60,.7,62,.72,65,.7,68,.72,70,.68,72,.62,75,.6,78,.62,80,.5,82,.58,85,.52,88,.55,90,.5,93,.52,96,.5,99,.52,102,.48,104,.45],
 "MEEM":[1,1,2,.8,5,.75,10,.78,15,.8,20,.8,25,.78,30,.78,35,.72,40,.62,45,.57,50,.52,55,.48,60,.46,65,.44,70,.42,75,.39,80,.35,85,.3,90,.27,95,.24,100,.21,105,.18],
 "KCF":[1,1,2,.9,5,.88,10,.85,15,.85,20,.83,25,.82,30,.8,35,.82,37,.78,40,.65,45,.6,50,.55,55,.5,60,.47,65,.45,70,.42,75,.4,80,.36,85,.31,90,.28,95,.25,100,.22,105,.18],
 "CN":[1,1,2,.95,3,.88,4,.92,5,.95,7,.85,9,.92,11,.88,13,.9,15,.88,17,.92,19,.85,21,.9,23,.85,25,.88,27,.84,29,.88,31,.82,33,.8,35,.78,37,.72,39,.7,41,.68,43,.65,45,.62,47,.6,49,.56,51,.55,53,.52,55,.5,57,.48,59,.52,61,.48,63,.45,65,.44,67,.43,69,.42,71,.42,73,.4,75,.4,77,.4,79,.38,82,.35,85,.32,88,.3,91,.28,94,.27,97,.26,99,.24,102,.21,105,.2],
 "L1":[1,1,2,.85,4,.8,6,.88,8,.78,10,.85,12,.8,14,.88,16,.82,18,.78,20,.85,22,.75,24,.82,26,.72,28,.78,30,.7,32,.65,34,.72,36,.8,38,.75,40,.7,42,.78,44,.72,46,.82,48,.85,50,.75,52,.8,54,.72,56,.78,58,.7,60,.75,62,.72,64,.78,66,.7,68,.75,70,.68,72,.72,74,.65,76,.6,78,.68,80,.62,82,.65,84,.6,86,.62,88,.58,90,.62,92,.55,94,.6,96,.58,98,.62,100,.6,102,.62,103,.6,105,.65],
 "JSR":[1,1,2,.85,3,.9,4,.82,6,.88,8,.8,10,.9,12,.82,14,.97,16,.85,18,.92,20,.85,22,.9,24,.82,26,.88,28,.8,30,.85,32,.78,34,.8,36,.72,37,.6,38,.22,39,.55,40,.25,41,.45,42,.1,43,.05,44,.15,45,.25,46,.08,47,.2,48,.03,50,.05,52,.01,53,.04,55,0,105,0],
 "Proposed method":[1,1,2,.85,3,.8,4,.75,5,.82,6,.72,7,.7,8,.75,9,.68,10,.66,11,.7,12,.68,13,.6,14,.7,15,.72,16,.68,17,.7,18,.65,19,.68,20,.66,21,.7,22,.68,23,.72,24,.65,25,.7,26,.52,27,.65,28,.7,29,.68,30,.72,31,.75,32,.78,33,.8,34,.75,35,.78,36,.72,37,.78,38,.7,39,.72,40,.7,41,.68,42,.72,44,.7,46,.68,48,.72,50,.68,52,.65,54,.7,56,.72,58,.68,60,.72,62,.7,64,.75,65,.72,66,.78,67,.72,68,.75,70,.8,72,.78,74,.82,75,.8,76,.85,77,.78,78,.87,80,.82,82,.78,84,.85,85,.8,87,.86,88,.8,90,.82,92,.78,94,.75,96,.73,98,.72,100,.7,101,.65,102,.6,103,.57,104,.58,105,.59]
};
const panelData = [cycling, fastMotor, minibus, rainyCar1, carNig, busScale, minibus1, minibusNig];

// ---------------- layout ----------------
const plotLeft = [54, 393, 731, 1072];
const plotRight = [319, 658, 993, 1334];
const rowTop = [10, 348];
const plotH = 195;
const mLeft = 54, mRight = 26, mTop = 10, mBottom = 55;
const captionX = [179, 520, 863, 1204];
const captionY = [289, 627];
const frameGray = "#a3a3a3";
const textGray = "#262626";

function toPoints(flat) {
  const pts = [];
  for (let i = 0; i < flat.length; i += 2) pts.push({x: flat[i], y: flat[i + 1]});
  return pts;
}
const fmt = d => String(d);

const root = document.getElementById("root");

panelData.forEach((data, p) => {
  const col = p % 4, row = Math.floor(p / 4);
  const plotW = plotRight[col] - plotLeft[col];
  const xMax = panelXMax[p];
  const marks = [
    Plot.frame({stroke: frameGray, strokeWidth: 1}),
    Plot.tickY(yTicks, {y: d => d, stroke: frameGray, insetRight: plotW - 3}),
    Plot.tickY(yTicks, {y: d => d, stroke: frameGray, insetLeft: plotW - 3}),
    Plot.tickX(panelXTicks[p], {x: d => d, stroke: frameGray, insetTop: plotH - 3}),
    Plot.tickX(panelXTicks[p], {x: d => d, stroke: frameGray, insetBottom: plotH - 3}),
    Plot.axisX({ticks: panelXTicks[p], tickSize: 0, tickPadding: 8, tickFormat: fmt, label: null, fill: textGray}),
    Plot.axisY({ticks: yTicks, tickSize: 0, tickPadding: 9, tickFormat: fmt, label: null, fill: textGray}),
    Plot.text([xLabel], {frameAnchor: "bottom", dy: 36, fontSize: 15, fontWeight: "bold", fill: textGray}),
    Plot.text([yLabel], {frameAnchor: "left", dx: -37, rotate: -90, fontSize: 15, fontWeight: "bold", fill: textGray})
  ];
  trackers.forEach((name, i) => {
    const flat = data[name];
    if (!flat) return;
    marks.push(Plot.line(toPoints(flat), {
      x: "x", y: "y",
      stroke: lineColors[i],
      strokeWidth: 2.3,
      strokeDasharray: dashed[i] ? "8,5" : null,
      strokeLinejoin: "round"
    }));
  });
  const svg = Plot.plot({
    width: plotW + mLeft + mRight,
    height: plotH + mTop + mBottom,
    marginLeft: mLeft, marginRight: mRight, marginTop: mTop, marginBottom: mBottom,
    x: {domain: [0, xMax], axis: null},
    y: {domain: [0, 1], axis: null},
    style: {fontFamily: "'Liberation Sans', Arial, sans-serif", fontSize: "13px", fontWeight: "bold", color: textGray, background: "transparent", overflow: "visible"},
    marks
  });
  const wrap = document.createElement("div");
  wrap.className = "panel";
  wrap.style.left = (plotLeft[col] - mLeft) + "px";
  wrap.style.top = (rowTop[row] - mTop) + "px";
  wrap.appendChild(svg);
  root.appendChild(wrap);

  const cap = document.createElement("div");
  cap.className = "caption";
  cap.textContent = panelCaptions[p];
  cap.style.left = captionX[col] + "px";
  cap.style.top = captionY[row] + "px";
  root.appendChild(cap);
});

// ---------------- legend ----------------
const legend = document.createElement("div");
legend.id = "legend";
trackers.forEach((name, i) => {
  const item = document.createElement("div");
  item.className = "item";
  const ns = "http://www.w3.org/2000/svg";
  const s = document.createElementNS(ns, "svg");
  s.setAttribute("width", 39); s.setAttribute("height", 10);
  const l = document.createElementNS(ns, "line");
  l.setAttribute("x1", 0); l.setAttribute("x2", 39); l.setAttribute("y1", 5); l.setAttribute("y2", 5);
  l.setAttribute("stroke", legendColors[i]); l.setAttribute("stroke-width", 8);
  if (dashed[i]) l.setAttribute("stroke-dasharray", "16,7");
  s.appendChild(l);
  const t = document.createElement("span");
  t.textContent = name;
  if (i === trackers.length - 1) t.style.fontWeight = "bold";
  item.appendChild(s); item.appendChild(t);
  legend.appendChild(item);
});
root.appendChild(legend);
</script></body></html>
